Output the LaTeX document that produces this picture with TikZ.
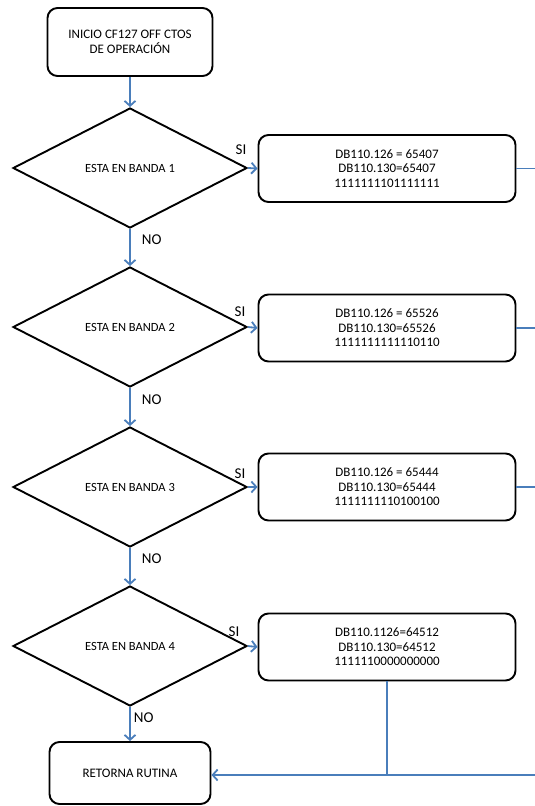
\documentclass[tikz,border=0pt]{standalone}
\usepackage{fontspec}
\setmainfont{Carlito}
\usetikzlibrary{shapes.geometric, arrows.meta}
\definecolor{flowline}{RGB}{74, 126, 187}

\begin{document}
\begin{tikzpicture}[x=1pt, y=-1pt,
		caja/.style={draw=black, line width=1.9pt, rounded corners=10pt, align=center,
			inner sep=0pt, font=\fontsize{13}{14.5}\selectfont},
		rombo/.style={draw=black, line width=1.9pt, diamond, aspect=2, inner sep=0pt,
			minimum width=234pt, minimum height=120pt, font=\fontsize{12.5}{14.5}\selectfont},
		flecha/.style={draw=flowline, line width=1.8pt, -{Straight Barb[length=5pt, width=11pt]}},
		linea/.style={draw=flowline, line width=1.8pt},
		etiq/.style={font=\fontsize{15}{15}\selectfont, inner sep=1pt}]
			\useasboundingbox (0,0) rectangle (535,806);
			\def\cx{130}
			\def\px{387}
			\def\pw{257}
			\def\ph{67}
			% inicio y fin
			\node[caja, minimum width=165pt, minimum height=68pt] (inicio) at (\cx, 42) {INICIO CF127 OFF CTOS\\DE OPERACIÓN};
			\node[caja, minimum width=161pt, minimum height=62pt] (fin) at (\cx, 773) {RETORNA RUTINA};

			% preguntas
			\node[rombo] (b1) at (\cx, 168) {ESTA EN BANDA 1};
			\node[rombo] (b2) at (\cx, 327) {ESTA EN BANDA 2};
			\node[rombo] (b3) at (\cx, 487) {ESTA EN BANDA 3};
			\node[rombo] (b4) at (\cx, 646) {ESTA EN BANDA 4};

			% valores
			\node[caja, minimum width=\pw pt, minimum height=\ph pt] (p1) at (\px, 168.5) {DB110.126 = 65407\\DB110.130=65407\\1111111101111111};
			\node[caja, minimum width=\pw pt, minimum height=\ph pt] (p2) at (\px, 328) {DB110.126 = 65526\\DB110.130=65526\\1111111111110110};
			\node[caja, minimum width=\pw pt, minimum height=\ph pt] (p3) at (\px, 487) {DB110.126 = 65444\\DB110.130=65444\\1111111110100100};
			\node[caja, minimum width=\pw pt, minimum height=\ph pt] (p4) at (\px, 647) {DB110.1126=64512\\DB110.130=64512\\1111110000000000};

			% salidas al borde derecho
			\coordinate (s1) at (535, 168.5);
			\coordinate (s2) at (535, 328);
			\coordinate (s3) at (535, 487);
			\coordinate (retorno) at (535, 775);

			% flujo NO
			\draw[flecha] (inicio) -- (b1);
			\draw[flecha] (b1.south) -- node[etiq, pos=0.3, anchor=west, xshift=10pt] {NO} (b2.north);
			\draw[flecha] (b2.south) -- node[etiq, pos=0.3, anchor=west, xshift=10pt] {NO} (b3.north);
			\draw[flecha] (b3.south) -- node[etiq, pos=0.3, anchor=west, xshift=10pt] {NO} (b4.north);
			\draw[flecha] (b4.south) -- node[etiq, pos=0.3, anchor=west, xshift=2pt] {NO} (fin.north);

			% flujo SI
			\draw[flecha] (b1.east) -- node[etiq, pos=0, anchor=south, xshift=-7pt, yshift=12pt] {SI} (p1.west);
			\draw[flecha] (b2.east) -- node[etiq, pos=0, anchor=south, xshift=-8pt, yshift=9pt] {SI} (p2.west);
			\draw[flecha] (b3.east) -- node[etiq, pos=0, anchor=south, xshift=-8pt, yshift=7pt] {SI} (p3.west);
			\draw[flecha] (b4.east) -- node[etiq, pos=0, anchor=south, xshift=-14pt, yshift=8pt] {SI} (p4.west);

			% regreso
			\draw[linea] (p1.east) -- (s1);
			\draw[linea] (p2.east) -- (s2);
			\draw[linea] (p3.east) -- (s3);
			\draw[linea] (p4.south) -- (p4.south |- retorno);
			\draw[flecha] (retorno) -- (fin.east |- retorno);

		\end{tikzpicture}
\end{document}
